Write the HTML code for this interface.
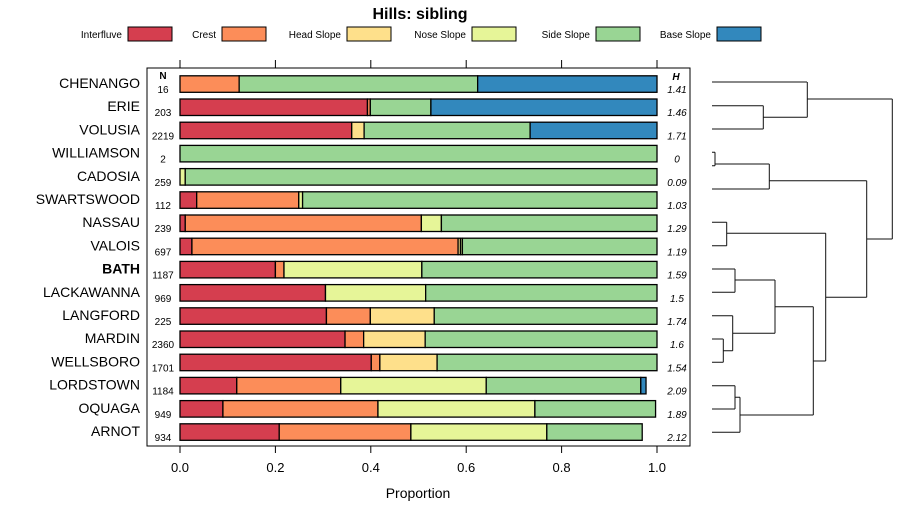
<!DOCTYPE html>
<html><head><meta charset="utf-8"><style>
body{margin:0;background:#fff;font-family:"Liberation Sans",sans-serif}
svg text{font-family:"Liberation Sans",sans-serif}
</style></head><body>
<svg id="c" width="900" height="520" viewBox="0 0 900 520">
<text x="420" y="19" text-anchor="middle" font-size="16" font-weight="bold">Hills: sibling</text>
<g id="legend"></g>
<rect x="147" y="68" width="543" height="378" fill="none" stroke="#000"/>
<g id="axes"></g><g id="bars"></g><g id="dend" fill="none" stroke="#111" stroke-width="1"></g>
<text x="418" y="498" text-anchor="middle" font-size="14">Proportion</text>
<text x="163" y="79" text-anchor="middle" font-size="10" font-weight="bold">N</text>
<text x="676" y="80" text-anchor="middle" font-size="10" font-weight="bold" font-style="italic">H</text>
</svg>
<script>
const categories=["CHENANGO","ERIE","VOLUSIA","WILLIAMSON","CADOSIA","SWARTSWOOD","NASSAU","VALOIS","BATH","LACKAWANNA","LANGFORD","MARDIN","WELLSBORO","LORDSTOWN","OQUAGA","ARNOT"];
const seriesNames=["Interfluve","Crest","Head Slope","Nose Slope","Side Slope","Base Slope"];
const colors=["#D53E4F","#FC8D59","#FEE08B","#E6F598","#99D594","#3288BD"];
const interfluve=[0,0.393,0.360,0,0,0.035,0.011,0.025,0.200,0.305,0.307,0.346,0.401,0.119,0.090,0.208];
const crest=[0.124,0.006,0,0,0,0.214,0.495,0.558,0.018,0,0.092,0.039,0.018,0.218,0.325,0.276];
const headSlope=[0,0,0.026,0,0,0,0,0.005,0,0,0.134,0.129,0.120,0,0,0];
const noseSlope=[0,0,0,0,0.011,0.008,0.042,0.004,0.289,0.210,0,0,0,0.305,0.329,0.285];
const sideSlope=[0.500,0.127,0.348,1,0.989,0.743,0.452,0.408,0.493,0.485,0.467,0.486,0.461,0.324,0.253,0.200];
const baseSlope=[0.376,0.474,0.266,0,0,0,0,0,0,0,0,0,0,0.011,0,0];
const nValues=["16","203","2219","2","259","112","239","697","1187","969","225","2360","1701","1184","949","934"];
const hValues=["1.41","1.46","1.71","0","0.09","1.03","1.29","1.19","1.59","1.5","1.74","1.6","1.54","2.09","1.89","2.12"];
const xTicks=[0,0.2,0.4,0.6,0.8,1.0];
const xTickLabels=["0.0","0.2","0.4","0.6","0.8","1.0"];
const series=[interfluve,crest,headSlope,noseSlope,sideSlope,baseSlope];
const NS="http://www.w3.org/2000/svg";
const xs=v=>180+v*477;
const ys=i=>84+i*23.2;
function mk(tag,attrs,parent,txt){const e=document.createElementNS(NS,tag);for(const k in attrs)e.setAttribute(k,attrs[k]);if(txt!=null)e.textContent=txt;parent.appendChild(e);return e;}
const lg=document.getElementById('legend');
const legX=[128,222,347,472,596,717];
seriesNames.forEach((s,i)=>{
 const t=mk('text',{x:legX[i]-6,y:38,'text-anchor':'end','font-size':'10'},lg,s);
 
 
 const r=mk('rect',{x:legX[i],y:27,width:44,height:14,fill:colors[i],stroke:'#000','stroke-width':1},lg);
 
 
});
const ax=document.getElementById('axes');
xTicks.forEach((v,i)=>{
 const t1=mk('line',{x1:xs(v),x2:xs(v),y1:60,y2:68,stroke:'#000'},ax);
 
 
 const t2=mk('line',{x1:xs(v),x2:xs(v),y1:446,y2:453,stroke:'#000'},ax);
 
 
 const l=mk('text',{x:xs(v),y:472,'text-anchor':'middle','font-size':'13'},ax,xTickLabels[i]);
 
 
});
const bg=document.getElementById('bars');
categories.forEach((c,i)=>{
 const y=ys(i);
 const lab=mk('text',{x:140,y:y+4,'text-anchor':'end','font-size':'14','font-weight':c==='BATH'?'bold':'normal'},bg,c);
 
 
 const n=mk('text',{x:163,y:y+9,'text-anchor':'middle','font-size':'10'},bg,nValues[i]);
 
 
 const h=mk('text',{x:677,y:y+9,'text-anchor':'middle','font-size':'10','font-style':'italic'},bg,hValues[i]);
 
 
 let cum=0;
 series.forEach((arr,j)=>{
  const v=arr[i]; if(v<=0)return;
  const r=mk('rect',{x:xs(cum),y:y-8.2,width:xs(cum+v)-xs(cum),height:16.5,fill:colors[j],stroke:'#000','stroke-width':1.3},bg);
  
  
  cum+=v;
 });
});
const dg=document.getElementById('dend');
const segs=[
"M712 82H807M712 105.7H763.3M712 129H763.3M763.3 105.7V129M763.3 117.3H807.3M807.3 82V117.3M807.3 99H892.3",
"M712 152.3H715M712 165.7H715M715 152.3V165.7M715 164H769.3M712 189H769.3M769.3 164V189M769.3 180.7H866.7",
"M712 222.3H726.7M712 245.7H726.7M726.7 222.3V245.7M726.7 233.3H825.7",
"M712 269H735M712 292.3H735M735 269V292.3M735 280H775",
"M712 315.7H732.7M712 339H723.3M712 362.3H723.3M723.3 339V362.3M723.3 350.7H732.7M732.7 315.7V350.7M732.7 333.3H775M775 280V333.3M775 306.7H813.3",
"M712 385.7H735M712 409H735M735 385.7V409M735 397.3H740M712 432.3H740M740 397.3V432.3M740 415H813.3M813.3 306.7V415M813.3 361H825.7",
"M825.7 233.3V361M825.7 297.3H866.7M866.7 180.7V297.3M866.7 239H892.3M892.3 99V239"];
segs.forEach(d=>{const p=mk('path',{d:d},dg);});
</script>
</body></html>
